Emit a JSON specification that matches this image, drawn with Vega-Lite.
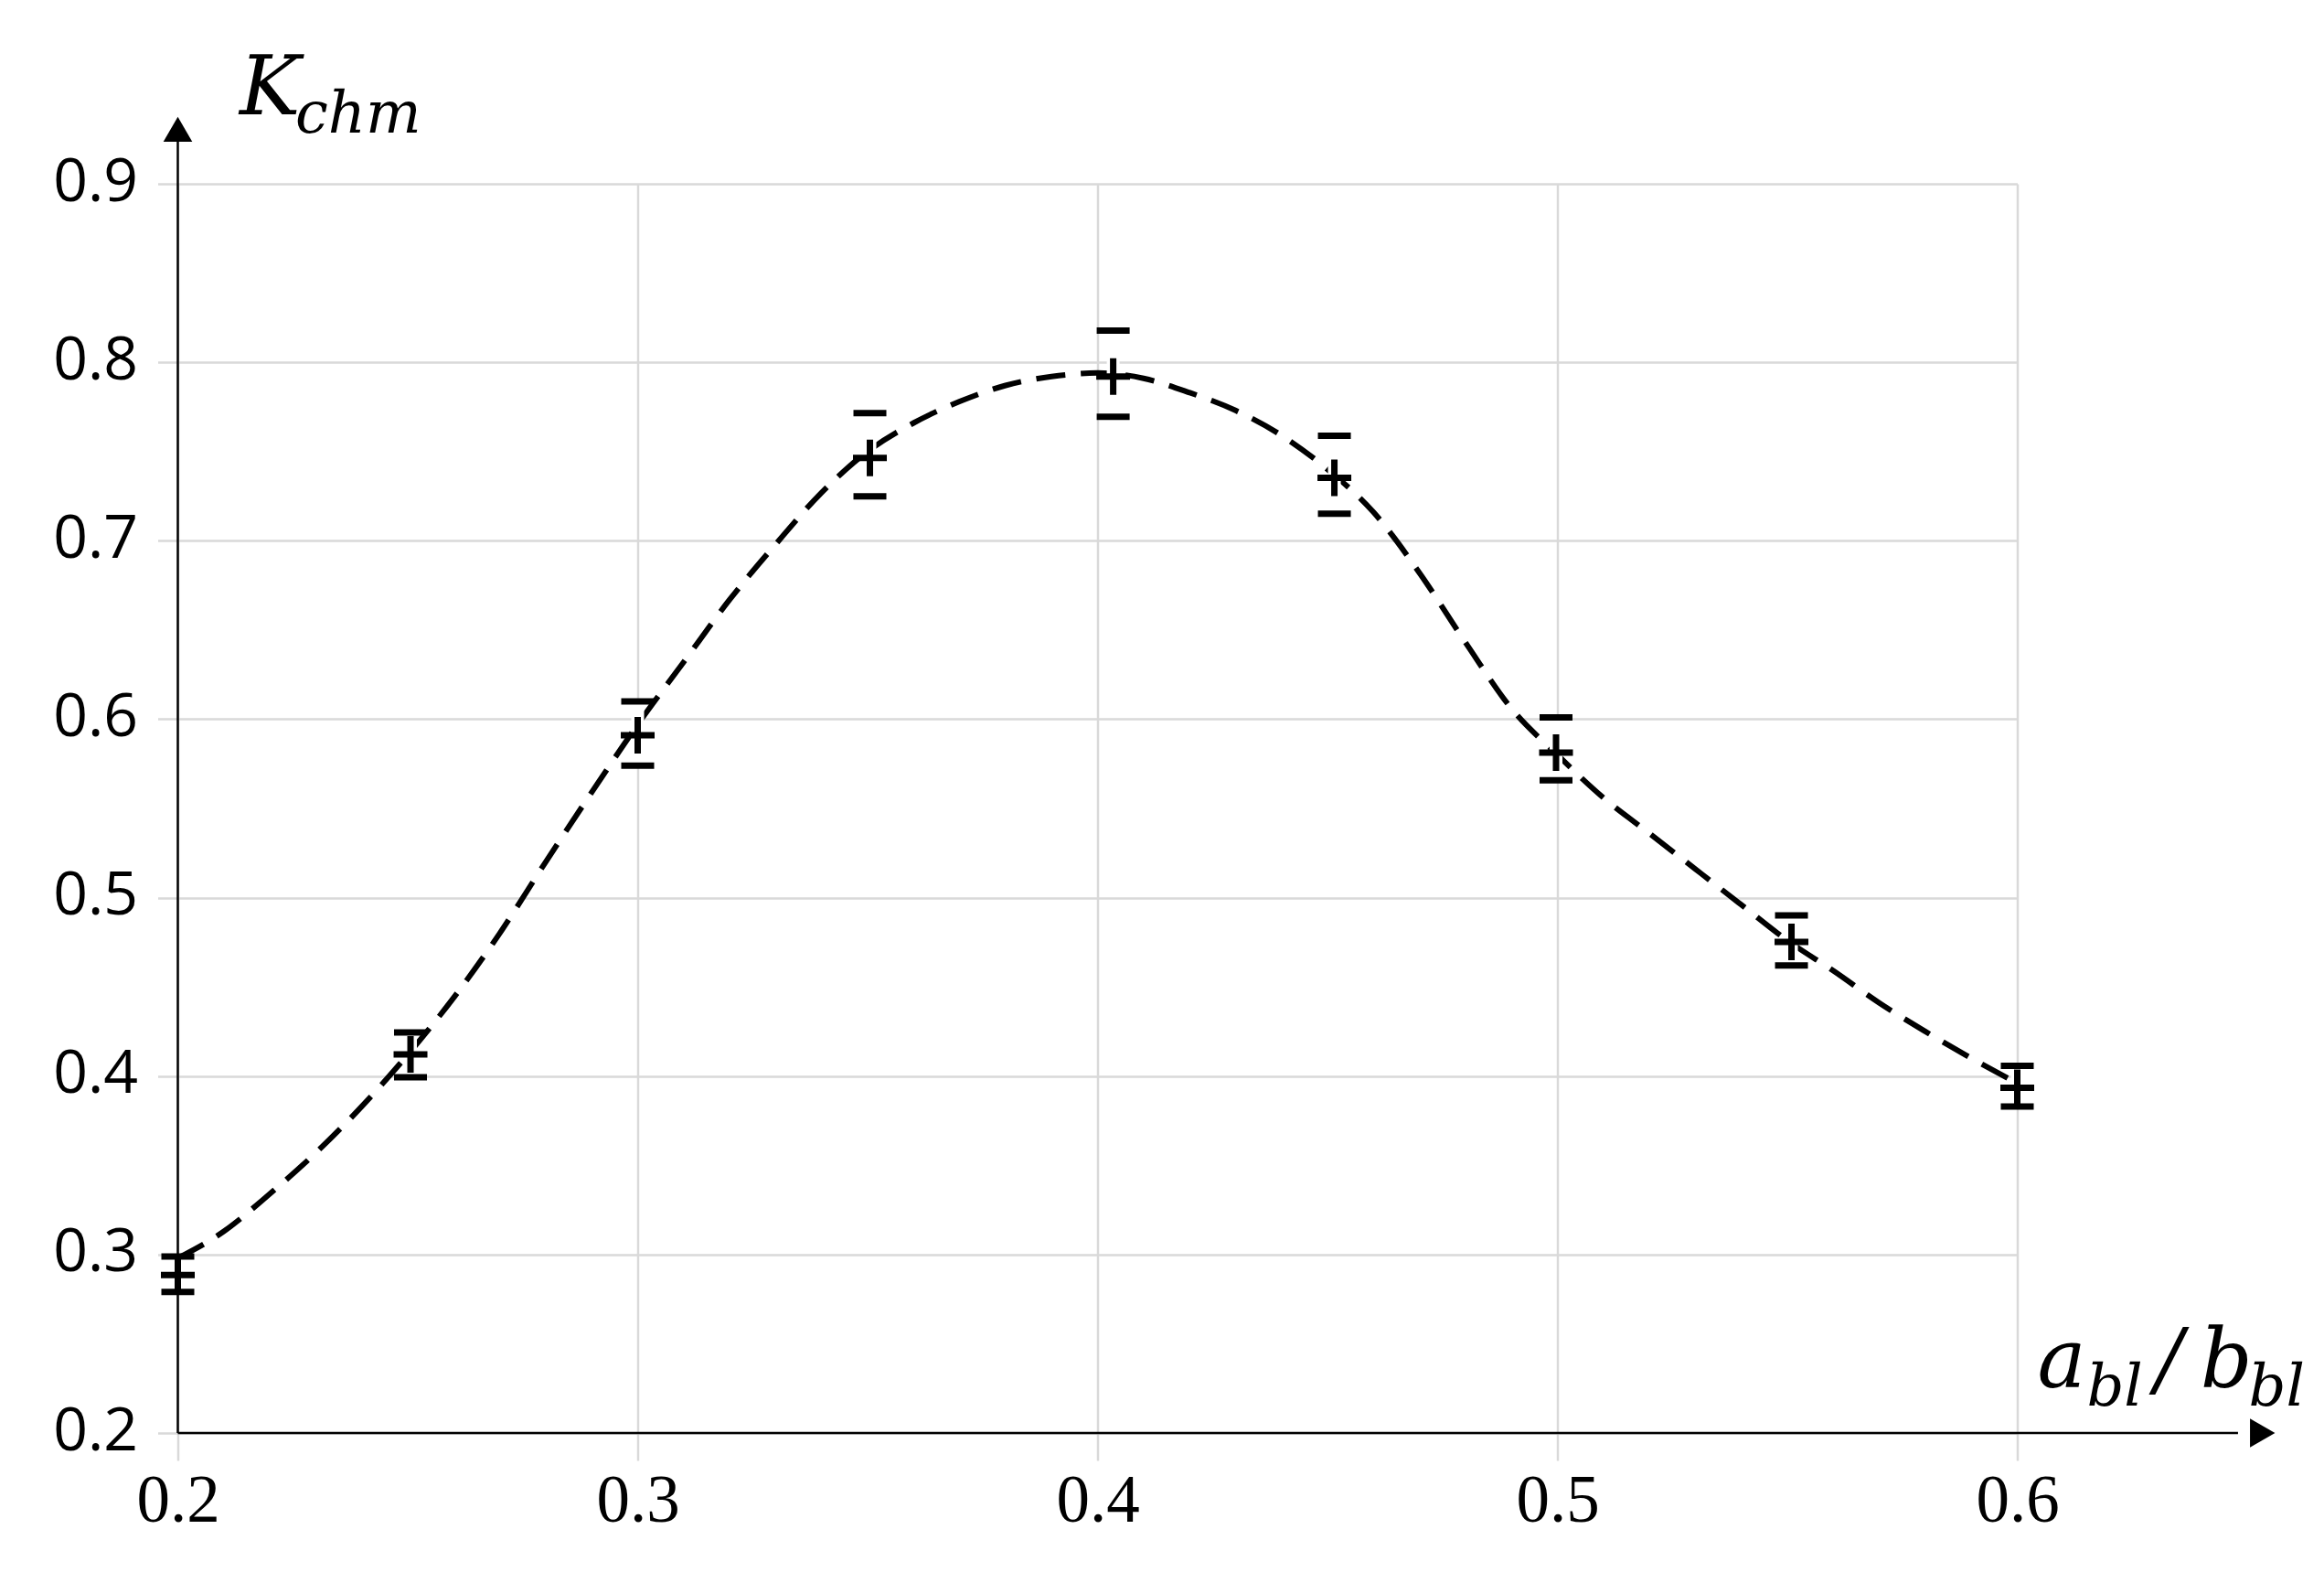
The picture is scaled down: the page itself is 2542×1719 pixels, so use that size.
{
  "$schema": "https://vega.github.io/schema/vega-lite/v6.json",
  "width": 2012,
  "height": 1366,
  "autosize": {"type": "none"},
  "padding": {"left": 194.5, "top": 201, "right": 335.5, "bottom": 152},
  "background": "white",
  "config": {
    "view": {"stroke": null},
    "axis": {
      "domain": false,
      "grid": true,
      "gridColor": "#d9d9d9",
      "gridWidth": 2.5,
      "tickColor": "#d9d9d9",
      "tickWidth": 2.5,
      "labelColor": "black"
    },
    "axisX": {"tickSize": 30, "labelFont": "Liberation Serif", "labelFontSize": 73, "labelPadding": 8, "tickCount": 4, "labelFlush": false},
    "axisY": {"tickSize": 22, "labelFont": "Open Sans", "labelFontSize": 66, "labelPadding": 22, "labelOffset": -2, "tickCount": 7}
  },
  "datasets": {
    "curve": [
      {"x": 0.20, "y": 0.298},
      {"x": 0.21, "y": 0.313},
      {"x": 0.22, "y": 0.334},
      {"x": 0.23, "y": 0.357},
      {"x": 0.24, "y": 0.383},
      {"x": 0.25, "y": 0.412},
      {"x": 0.26, "y": 0.444},
      {"x": 0.27, "y": 0.480},
      {"x": 0.28, "y": 0.520},
      {"x": 0.29, "y": 0.559},
      {"x": 0.30, "y": 0.597},
      {"x": 0.31, "y": 0.632},
      {"x": 0.32, "y": 0.667},
      {"x": 0.33, "y": 0.698},
      {"x": 0.34, "y": 0.727},
      {"x": 0.35, "y": 0.750},
      {"x": 0.36, "y": 0.766},
      {"x": 0.37, "y": 0.778},
      {"x": 0.38, "y": 0.787},
      {"x": 0.39, "y": 0.792},
      {"x": 0.40, "y": 0.794},
      {"x": 0.41, "y": 0.791},
      {"x": 0.42, "y": 0.783},
      {"x": 0.43, "y": 0.773},
      {"x": 0.44, "y": 0.759},
      {"x": 0.45, "y": 0.740},
      {"x": 0.46, "y": 0.716},
      {"x": 0.47, "y": 0.682},
      {"x": 0.48, "y": 0.643},
      {"x": 0.49, "y": 0.606},
      {"x": 0.50, "y": 0.580},
      {"x": 0.51, "y": 0.556},
      {"x": 0.52, "y": 0.536},
      {"x": 0.53, "y": 0.516},
      {"x": 0.54, "y": 0.496},
      {"x": 0.55, "y": 0.476},
      {"x": 0.56, "y": 0.459},
      {"x": 0.57, "y": 0.441},
      {"x": 0.58, "y": 0.425},
      {"x": 0.59, "y": 0.410},
      {"x": 0.60, "y": 0.396}
    ],
    "points": [
      {"x": 0.2, "y": 0.2885, "lo": 0.279, "hi": 0.2989},
      {"x": 0.2506, "y": 0.4122, "lo": 0.3994, "hi": 0.4245},
      {"x": 0.3, "y": 0.591, "lo": 0.574, "hi": 0.610},
      {"x": 0.3505, "y": 0.7464, "lo": 0.7249, "hi": 0.7715},
      {"x": 0.4034, "y": 0.792, "lo": 0.7695, "hi": 0.8177},
      {"x": 0.4515, "y": 0.7353, "lo": 0.7151, "hi": 0.7588},
      {"x": 0.4997, "y": 0.5813, "lo": 0.5657, "hi": 0.601},
      {"x": 0.5509, "y": 0.4752, "lo": 0.462, "hi": 0.490},
      {"x": 0.6, "y": 0.3934, "lo": 0.3829, "hi": 0.4058}
    ]
  },
  "layer": [
    {
      "data": {"name": "curve"},
      "mark": {"type": "line", "interpolate": "monotone", "color": "black", "strokeWidth": 6, "strokeDash": [32, 17]},
      "encoding": {
        "x": {"field": "x", "type": "quantitative", "title": null, "scale": {"domain": [0.2, 0.6], "nice": false, "zero": false}},
        "y": {"field": "y", "type": "quantitative", "title": null, "scale": {"domain": [0.2, 0.9], "nice": false, "zero": false}}
      }
    },
    {
      "data": {"name": "points"},
      "mark": {"type": "rule", "color": "white", "strokeWidth": 14},
      "encoding": {
        "x": {"field": "x", "type": "quantitative", "title": null},
        "y": {"field": "lo", "type": "quantitative", "title": null},
        "y2": {"field": "hi"}
      }
    },
    {
      "data": {"name": "points"},
      "mark": {"type": "tick", "orient": "horizontal", "color": "black", "opacity": 1, "size": 36, "thickness": 7},
      "encoding": {
        "x": {"field": "x", "type": "quantitative", "title": null},
        "y": {"field": "lo", "type": "quantitative", "title": null}
      }
    },
    {
      "data": {"name": "points"},
      "mark": {"type": "tick", "orient": "horizontal", "color": "black", "opacity": 1, "size": 36, "thickness": 7},
      "encoding": {
        "x": {"field": "x", "type": "quantitative", "title": null},
        "y": {"field": "hi", "type": "quantitative", "title": null}
      }
    },
    {
      "data": {"name": "points"},
      "mark": {"type": "point", "shape": "M-1,0L1,0M0,-1.08L0,1.08", "filled": false, "color": "black", "opacity": 1, "size": 1369, "strokeWidth": 7},
      "encoding": {
        "x": {"field": "x", "type": "quantitative", "title": null},
        "y": {"field": "y", "type": "quantitative", "title": null}
      }
    },
    {
      "data": {"values": [{}]},
      "layer": [
        {
          "mark": {"type": "rule", "color": "black", "strokeWidth": 2.5},
          "encoding": {
            "x": {"datum": 0.2, "type": "quantitative", "title": null},
            "y": {"datum": 0.2, "type": "quantitative", "title": null},
            "y2": {"datum": 0.925}
          }
        },
        {
          "mark": {"type": "rule", "color": "black", "strokeWidth": 2.5},
          "encoding": {
            "x": {"datum": 0.2, "type": "quantitative", "title": null},
            "x2": {"datum": 0.648},
            "y": {"datum": 0.2, "type": "quantitative", "title": null}
          }
        },
        {
          "mark": {"type": "point", "shape": "triangle-up", "filled": true, "color": "black", "opacity": 1, "size": 1000},
          "encoding": {
            "x": {"datum": 0.2, "type": "quantitative", "title": null},
            "y": {"datum": 0.93056, "type": "quantitative", "title": null}
          }
        },
        {
          "mark": {"type": "point", "shape": "triangle-right", "filled": true, "color": "black", "opacity": 1, "size": 1000},
          "encoding": {
            "x": {"datum": 0.65333, "type": "quantitative", "title": null},
            "y": {"datum": 0.2, "type": "quantitative", "title": null}
          }
        },
        {
          "mark": {"type": "text", "font": "DejaVu Serif", "fontStyle": "italic", "fontSize": 89, "align": "left", "baseline": "alphabetic", "color": "black"},
          "encoding": {
            "x": {"datum": 0.21342, "type": "quantitative", "title": null},
            "y": {"datum": 0.9391, "type": "quantitative", "title": null},
            "text": {"value": "K"}
          }
        },
        {
          "mark": {"type": "text", "font": "DejaVu Serif", "fontStyle": "italic", "fontSize": 64, "align": "left", "baseline": "alphabetic", "color": "black"},
          "encoding": {
            "x": {"datum": 0.22555, "type": "quantitative", "title": null},
            "y": {"datum": 0.92886, "type": "quantitative", "title": null},
            "text": {"value": "chm"}
          }
        },
        {
          "mark": {"type": "text", "font": "DejaVu Serif", "fontStyle": "italic", "fontSize": 89, "align": "left", "baseline": "alphabetic", "color": "black"},
          "encoding": {
            "x": {"datum": 0.60435, "type": "quantitative", "title": null},
            "y": {"datum": 0.22563, "type": "quantitative", "title": null},
            "text": {"value": "a"}
          }
        },
        {
          "mark": {"type": "text", "font": "DejaVu Serif", "fontStyle": "italic", "fontSize": 64, "align": "left", "baseline": "alphabetic", "color": "black"},
          "encoding": {
            "x": {"datum": 0.61509, "type": "quantitative", "title": null},
            "y": {"datum": 0.21538, "type": "quantitative", "title": null},
            "text": {"value": "bl"}
          }
        },
        {
          "mark": {"type": "text", "font": "DejaVu Serif", "fontStyle": "italic", "fontSize": 89, "align": "left", "baseline": "alphabetic", "color": "black"},
          "encoding": {
            "x": {"datum": 0.6300, "type": "quantitative", "title": null},
            "y": {"datum": 0.22563, "type": "quantitative", "title": null},
            "text": {"value": "/"}
          }
        },
        {
          "mark": {"type": "text", "font": "DejaVu Serif", "fontStyle": "italic", "fontSize": 89, "align": "left", "baseline": "alphabetic", "color": "black"},
          "encoding": {
            "x": {"datum": 0.6398, "type": "quantitative", "title": null},
            "y": {"datum": 0.22563, "type": "quantitative", "title": null},
            "text": {"value": "b"}
          }
        },
        {
          "mark": {"type": "text", "font": "DejaVu Serif", "fontStyle": "italic", "fontSize": 64, "align": "left", "baseline": "alphabetic", "color": "black"},
          "encoding": {
            "x": {"datum": 0.6503, "type": "quantitative", "title": null},
            "y": {"datum": 0.21538, "type": "quantitative", "title": null},
            "text": {"value": "bl"}
          }
        }
      ]
    }
  ]
}
